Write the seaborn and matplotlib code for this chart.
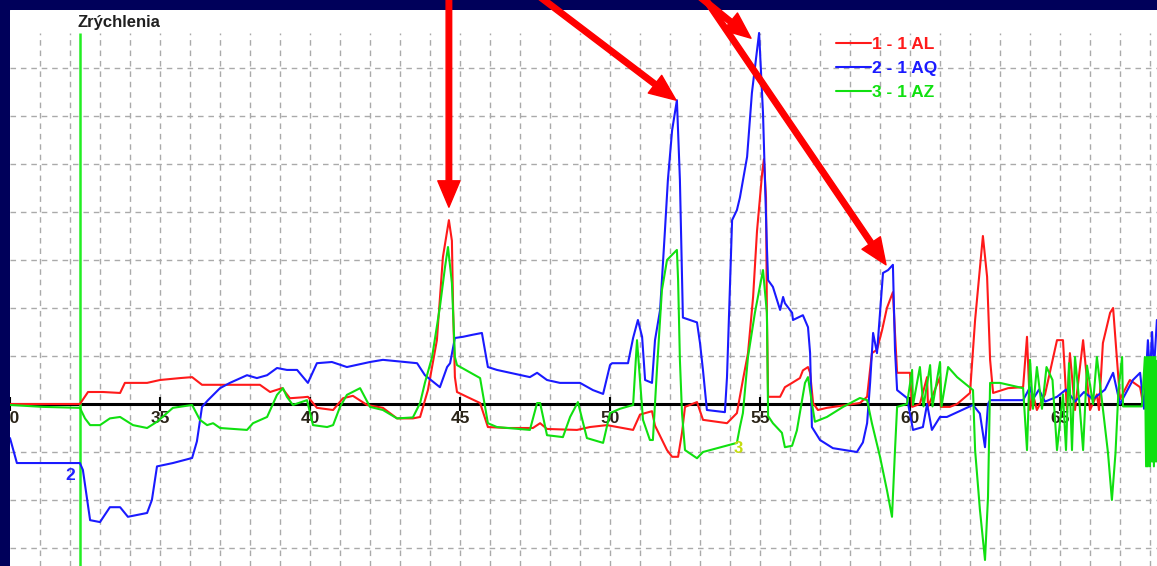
import numpy as np
import pandas as pd
import matplotlib
matplotlib.use('Agg')
import matplotlib.pyplot as plt
from matplotlib.lines import Line2D
import seaborn as sns

# time axis in seconds, accelerations in grid units (one dashed row = 1)
red_t = [30.0, 32.33, 32.6, 33.1, 33.67, 33.83, 34.57, 35.0, 35.67, 36.07, 36.4, 38.33, 38.67, 39.07,
         39.33, 39.77, 39.93, 40.23, 40.77, 41.1, 41.43, 41.9, 42.43, 42.9, 43.43, 43.67, 43.93, 44.23,
         44.43, 44.57, 44.63, 44.73, 44.77, 44.83, 44.9, 45.23, 45.67, 45.93, 46.57, 47.43, 47.67, 47.9,
         48.9, 49.33, 49.9, 50.77, 51.0, 51.4, 51.5, 51.9, 52.07, 52.27, 52.4, 52.5, 52.9, 53.1, 53.9,
         54.23, 54.43, 54.6, 54.77, 54.9, 55.07, 55.13, 55.2, 55.23, 55.27, 55.67, 55.83, 56.07, 56.33,
         56.43, 56.6, 56.67, 56.77, 56.93, 57.23, 58.33, 58.57, 58.73, 58.9, 59.07, 59.23, 59.43, 59.5,
         59.57, 60.0, 60.07, 60.33, 60.57, 60.6, 61.0, 61.03, 61.33, 61.57, 62.0, 62.17, 62.43, 62.57,
         62.67, 62.77, 63.27, 63.77, 63.9, 64.0, 64.1, 64.23, 64.5, 64.9, 65.1, 65.23, 65.33, 65.5,
         65.77, 66.0, 66.23, 66.3, 66.43, 66.67, 66.77, 66.9, 67.0, 67.33, 67.67, 67.77, 68.23]
red_a = [0.0, 0.0, 0.25, 0.25, 0.23, 0.44, 0.44, 0.5, 0.54, 0.56, 0.4, 0.4, 0.25, 0.33,
         0.12, 0.14, 0.15, -0.08, -0.125, 0.12, 0.17, -0.02, -0.08, -0.3, -0.3, -0.27, 0.29, 1.33,
         3.06, 3.6, 3.83, 3.4, 2.0, 0.56, 0.25, 0.15, 0.02, -0.48, -0.5, -0.5, -0.4, -0.52,
         -0.54, -0.48, -0.44, -0.54, -0.22, -0.15, -0.45, -0.96, -1.1, -1.1, -0.6, -0.06, 0.04, -0.33, -0.4,
         -0.19, 0.5, 1.06, 2.23, 3.6, 4.8, 5.1, 4.3, 1.9, 0.15, 0.15, 0.35, 0.44, 0.54,
         0.7, 0.77, 0.65, 0.02, -0.125, -0.08, 0.02, 0.15, 1.06, 1.13, 1.54, 2.0, 2.33, 1.48,
         0.65, 0.65, -0.06, 0.0, 0.56, -0.06, 0.56, -0.06, -0.06, 0.0, 0.23, 1.75, 3.5, 2.65,
         0.92, 0.23, 0.33, 0.35, 1.4, -0.125, 0.2, -0.125, 0.2, 1.33, 1.33, -0.125, 1.06, -0.125,
         1.33, -0.125, 0.2, -0.125, 1.27, 1.9, 2.0, 0.92, 0.1, 0.5, 0.35, 0.0, 0.3]

blue_t = [30.0, 30.23, 32.33, 32.43, 32.67, 33.0, 33.33, 33.67, 33.93, 34.57, 34.73, 34.9, 35.43,
          36.07, 36.23, 36.4, 36.6, 37.0, 37.33, 37.9, 38.23, 38.57, 38.9, 39.23, 39.57, 39.77, 39.93,
          40.23, 40.73, 41.23, 42.0, 42.43, 43.57, 43.83, 44.23, 44.33, 44.57, 44.67, 44.83, 45.1, 45.4,
          45.73, 45.93, 46.23, 46.67, 47.33, 47.57, 47.9, 48.33, 49.0, 49.43, 49.77, 50.0, 50.07, 50.6,
          50.77, 50.93, 51.07, 51.17, 51.4, 51.5, 51.67, 51.83, 51.93, 52.07, 52.23, 52.33, 52.43, 52.9,
          53.0, 53.1, 53.23, 53.83, 53.9, 54.07, 54.23, 54.33, 54.57, 54.73, 54.97, 55.1, 55.23, 55.27,
          55.43, 55.67, 55.77, 55.83, 56.07, 56.1, 56.43, 56.6, 56.67, 56.73, 57.0, 57.43, 58.23, 58.43,
          58.57, 58.67, 58.77, 58.9, 59.1, 59.27, 59.43, 59.5, 59.57, 59.9, 60.1, 60.43, 60.57, 60.73,
          61.0, 61.23, 62.1, 62.33, 62.5, 62.6, 62.67, 63.77, 64.0, 64.1, 64.3, 64.5, 64.9, 65.2, 65.5,
          65.8, 66.1, 66.5, 66.77, 67.0, 67.43, 67.67, 67.8, 67.93, 68.0, 68.07, 68.13, 68.23]
blue_a = [-0.71, -1.23, -1.23, -1.375, -2.42, -2.46, -2.15, -2.15, -2.35, -2.27, -2.0, -1.3, -1.23,
          -1.125, -0.78, -0.06, 0.08, 0.33, 0.44, 0.6, 0.54, 0.6, 0.75, 0.71, 0.71, 0.56, 0.44,
          0.85, 0.875, 0.77, 0.875, 0.92, 0.85, 0.6, 0.4, 0.35, 0.77, 0.85, 1.375, 1.4, 1.44,
          1.48, 0.77, 0.71, 0.65, 0.56, 0.65, 0.5, 0.44, 0.44, 0.29, 0.21, 0.81, 0.85, 0.85,
          1.375, 1.75, 1.4, 0.5, 0.44, 1.33, 1.96, 3.6, 4.67, 5.7, 6.33, 4.67, 1.8, 1.7,
          1.27, 0.7, -0.125, -0.17, 0.56, 3.83, 4.04, 4.3, 5.15, 6.48, 7.73, 6.06, 3.27, 2.58,
          2.44, 1.96, 2.23, 2.1, 1.9, 1.75, 1.85, 1.6, 1.06, -0.48, -0.75, -0.92, -1.0, -0.8,
          -0.4, 0.44, 1.48, 1.06, 2.73, 2.79, 2.9, 1.13, 0.29, 0.125, -0.54, -0.48, 0.0, -0.54,
          -0.27, -0.27, -0.02, -0.2, -0.9, 0.0, 0.08, 0.08, 0.35, 0.1, 0.3, 0.05, 0.15, 0.3, 0.05,
          0.25, 0.1, 0.3, 0.65, 0.0, 0.5, 0.65, -0.1, 1.33, 0.6, 1.5, 0.7, 1.75]

green_t = [30.0, 31.1, 32.33, 32.5, 32.67, 33.0, 33.33, 33.67, 34.1, 34.57, 34.9, 35.43, 36.07,
           36.33, 36.57, 36.77, 37.0, 37.9, 38.1, 38.57, 38.9, 39.1, 39.23, 39.43, 39.9, 40.1, 40.57,
           40.77, 41.0, 41.23, 41.67, 42.0, 42.43, 42.9, 43.43, 43.67, 43.83, 44.07, 44.33, 44.5, 44.6,
           44.73, 44.83, 44.9, 45.67, 45.93, 46.23, 47.33, 47.57, 47.67, 47.9, 48.43, 48.67, 48.93,
           49.23, 49.77, 50.0, 50.33, 50.77, 50.9, 51.1, 51.33, 51.43, 51.57, 51.73, 51.9, 52.23, 52.27,
           52.33, 52.4, 52.5, 52.9, 53.1, 54.0, 54.23, 54.33, 54.43, 54.6, 54.83, 55.1, 55.23, 55.27,
           55.43, 55.73, 55.83, 56.07, 56.23, 56.5, 56.6, 56.73, 56.83, 57.23, 57.77, 58.33, 58.57,
           58.73, 59.0, 59.23, 59.4, 59.5, 59.57, 59.9, 60.07, 60.1, 60.33, 60.45, 60.67, 60.75, 61.0,
           61.05, 61.27, 61.57, 62.1, 62.17, 62.33, 62.5, 62.6, 62.67, 63.0, 63.77, 63.9, 64.0, 64.1,
           64.23, 64.4, 64.55, 64.75, 64.9, 65.1, 65.2, 65.3, 65.4, 65.5, 65.65, 65.77, 65.9, 66.1,
           66.23, 66.43, 66.6, 66.73, 66.85, 66.95, 67.07, 67.1, 67.73, 67.83, 67.87, 67.9, 67.93,
           67.97, 68.0, 68.03, 68.07, 68.1, 68.13, 68.17, 68.2, 68.23]
green_a = [-0.02, -0.06, -0.08, -0.3, -0.44, -0.44, -0.3, -0.27, -0.44, -0.5, -0.37, -0.08, -0.02,
           -0.33, -0.44, -0.4, -0.5, -0.54, -0.4, -0.27, 0.19, 0.33, 0.15, -0.02, 0.08, -0.44, -0.48,
           -0.44, -0.06, 0.19, 0.33, -0.06, -0.125, -0.3, -0.28, 0.02, 0.44, 0.98, 2.02, 2.85, 3.27,
           2.52, 0.98, 0.81, 0.54, -0.4, -0.48, -0.54, 0.02, 0.02, -0.65, -0.69, -0.27, 0.04,
           -0.71, -0.81, -0.19, -0.1, -0.02, 1.33, -0.33, -0.75, -0.75, 0.77, 2.37, 3.0, 3.21, 2.58,
           0.92, -0.19, -0.96, -1.13, -1.0, -0.85, -0.81, -0.48, -0.19, 0.98, 1.9, 2.79, 1.9, -0.25,
           -0.4, -0.6, -0.9, -0.87, -0.55, 0.44, 0.56, 0.02, -0.37, -0.27, -0.06, 0.125, 0.08,
           -0.4, -1.1, -1.79, -2.35, -0.96, -0.06, 0.0, 0.71, -0.02, 0.77, -0.05, 0.81, -0.05, 0.875,
           -0.05, 0.77, 0.56, 0.29, -0.96, -2.2, -3.25, -1.94, 0.44, 0.44, 0.33, -0.96, 0.92, -0.1,
           0.77, -0.1, 0.77, 0.5, -0.96, 0.2, -0.96, 0.85, -0.96, 0.98, 0.0, -0.96, 0.8, 0.0,
           0.98, -0.1, -1.02, -2.0, -1.02, 0.3, 0.98, -0.05, -0.05, 0.98, -1.3, 0.98, -1.3,
           0.98, -1.3, 0.98, -1.2, 0.98, -1.3, 0.98, -1.2, 0.9]

series_names = ['1 - 1 AL', '2 - 1 AQ', '3 - 1 AZ']
series_colors = ['#ff1a1a', '#1a1aff', '#10e010']
tick_values = [30, 35, 40, 45, 50, 55, 60, 65]

df = pd.concat([
    pd.DataFrame({'t': red_t, 'a': red_a, 'kanal': series_names[0]}),
    pd.DataFrame({'t': blue_t, 'a': blue_a, 'kanal': series_names[1]}),
    pd.DataFrame({'t': green_t, 'a': green_a, 'kanal': series_names[2]}),
], ignore_index=True)

sns.set_style('white')
plt.rcParams['font.family'] = ['Liberation Sans', 'DejaVu Sans']

W, H = 1157, 566
fig = plt.figure(figsize=(W / 100, H / 100), dpi=100, facecolor='#00005a')
ax = fig.add_axes([10 / W, 0, (W - 10) / W, (H - 10) / H])
ax.set_facecolor('white')

x0, x1 = 30, 30 + (W - 10) / 30
y0, y1 = -(H - 404) / 48, (404 - 10) / 48
ax.set_xlim(x0, x1)
ax.set_ylim(y0, y1)
ax.set_axis_off()
ax.add_patch(plt.Rectangle((x0, y0), x1 - x0, y1 - y0, color='white', zorder=0))

# dashed grid
grid_top = (404 - 33) / 48
ax.vlines(np.arange(31, 69), y0, grid_top, colors='#aaaaaa', lw=1.0,
          linestyles=(0, (4, 3.5)), zorder=1)
ax.hlines([-3, -2, -1, 1, 2, 3, 4, 5, 6, 7], x0, x1, colors='#aaaaaa', lw=1.0,
          linestyles=(0, (4, 3.5)), zorder=1)

# zero axis with ticks and labels
ax.axhline(0, color='black', lw=2.2, zorder=2)
ax.vlines(tick_values, -0.15, 0.15, colors='black', lw=1.5, zorder=2)
for v in tick_values:
    ax.text(v, -0.15, str(v), ha='center', va='top', fontsize=12.5, fontweight='bold',
            color='#2a2418', clip_on=True, zorder=2)

# cursor line
ax.vlines(32.33, y0, grid_top, colors='#22ee22', lw=1.8, zorder=3)

sns.lineplot(data=df, x='t', y='a', hue='kanal', palette=series_colors, estimator=None,
             sort=False, lw=1.5, legend=False, ax=ax, zorder=4)
ax.set_axis_off()

ax.text(32.0, -1.5, '2', color='#2020ff', fontsize=12.5, fontweight='bold', ha='center',
        va='center', zorder=5)
ax.text(54.27, -0.92, '3', color='#c4dc10', fontsize=12, fontweight='bold', ha='center',
        va='center', zorder=5)

fig.text(78 / W, 1 - 22 / H, 'Zrýchlenia', fontsize=12, fontweight='bold', color='#202020',
         ha='left', va='center')

handles = [Line2D([], [], color=c, lw=1.5) for c in series_colors]
leg = fig.legend(handles, series_names, loc='upper left', bbox_to_anchor=(836 / W, 1 - 37 / H),
                 frameon=False, prop={'size': 12.5, 'weight': 'bold'}, handlelength=2.0,
                 handletextpad=0.05, labelspacing=0.5, borderpad=0, borderaxespad=0,
                 labelcolor='linecolor')

# red arrows
arrows = [((44.63, 4.1), (44.63, 8.52)),
          ((52.2, 6.33), (47.67, 8.48)),
          ((54.7, 7.62), (53.0, 8.48)),
          ((59.2, 2.9), (53.13, 8.48))]
for tip, tail in arrows:
    ax.annotate('', xy=tip, xytext=tail, annotation_clip=False, zorder=6,
                arrowprops=dict(facecolor='#ff0000', edgecolor='#ff0000', width=4,
                                headwidth=16, headlength=19, shrink=0))

fig.savefig('out.png', dpi=100, facecolor=fig.get_facecolor())
